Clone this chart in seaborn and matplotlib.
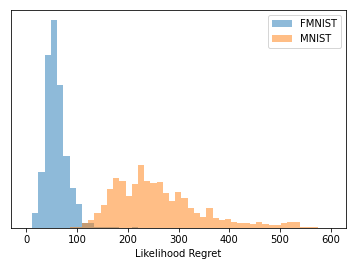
import numpy as np
import pandas as pd
import matplotlib
matplotlib.use("Agg")
import matplotlib.pyplot as plt
import seaborn as sns

# =====================
# DATA (arbitrary count units)
# =====================
bin_start = 11.8
bin_width = 12.25
n_bins = 46

fmnist_counts = [15.3, 56, 173.3, 207.3, 143, 72.3, 40, 24, 5, 5,
                 1, 1, 1, 1, 0, 0, 1, 0, 0, 0,
                 0, 0, 0, 0, 0, 0, 0, 0, 0, 0,
                 0, 0, 0, 0, 0, 0, 0, 0, 0, 0,
                 0, 0, 0, 0, 0, 0]

mnist_counts = [0, 0, 0, 0, 0, 0, 1, 1, 5, 8.3,
                15.3, 23, 39, 50, 47, 32, 44, 63, 47, 45,
                46, 35.3, 27, 36, 30, 20.3, 15, 11, 20.3, 10,
                8.3, 9, 6.3, 5.3, 5.3, 4.3, 6.3, 4, 3, 3,
                5, 6, 6, 1, 1, 1]

labels = ["FMNIST", "MNIST"]

bin_end = bin_start + bin_width * n_bins
centers = bin_start + bin_width * (np.arange(n_bins) + 0.5)

# =====================
# PLOT
# =====================
plt.rcParams['font.family'] = ['DejaVu Sans']
fig, ax = plt.subplots(figsize=(356 / 72, 266 / 72), dpi=72)
fig.subplots_adjust(left=0.031, right=0.972, bottom=0.143, top=0.962)

for counts, label, color in zip([fmnist_counts, mnist_counts], labels, ["C0", "C1"]):
    df = pd.DataFrame({"value": centers, "count": counts})
    sns.histplot(data=df, x="value", weights="count", binwidth=bin_width,
                 binrange=(bin_start, bin_end), color=color, alpha=0.5,
                 linewidth=0, label=label, ax=ax)

ax.set_xlim(-30, 630)
ax.set_xticks([0, 100, 200, 300, 400, 500, 600])
ax.set_yticks([])
ax.set_ylabel("")
ax.set_xlabel("Likelihood Regret")
ax.legend(loc="upper right")

plt.savefig("out.png", dpi=72)
plt.close()
